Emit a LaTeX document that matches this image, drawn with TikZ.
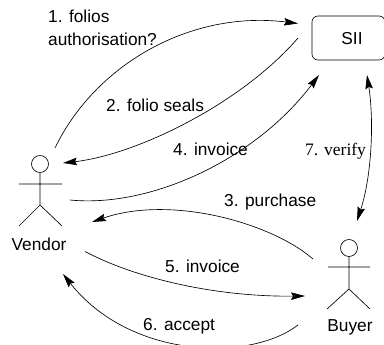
\documentclass[tikz,border=0pt]{standalone}
\usepackage{fontspec}
\setmainfont{Liberation Sans}
\newfontfamily\serifface{Liberation Serif}
\usetikzlibrary{arrows.meta}
\tikzset{
  every picture/.style={x=1pt,y=-1pt},
  lab/.style={anchor=base west,inner sep=0pt,font=\fontsize{17.3}{20}\selectfont},
  serlab/.style={anchor=base west,inner sep=0pt,font=\serifface\fontsize{17.5}{20}\selectfont},
  actorlab/.style={anchor=base,inner sep=0pt,font=\fontsize{17.3}{20}\selectfont},
  flow/.style={line width=0.65pt,-{Stealth[length=14pt,width=7.5pt,inset=2pt]}},
  both/.style={line width=0.65pt,{Stealth[length=14pt,width=7.5pt,inset=2pt]}-{Stealth[length=14pt,width=7.5pt,inset=2pt]}},
  limb/.style={line width=0.65pt},
  headc/.style={draw,circle,line width=0.65pt,minimum size=17pt,inner sep=0pt},
  sysbox/.style={draw,line width=0.65pt,rounded corners=6pt,minimum width=73pt,minimum height=44pt,inner sep=0pt}
}
\begin{document}
\begin{tikzpicture}
\useasboundingbox (0,0) rectangle (384,345);
\node[sysbox] (sii) at (348.5,38) {};
\node[inner sep=0pt,anchor=base,font=\fontsize{17.3}{20}\selectfont] (siitext) at (352,45) {SII};
% actors
\node[headc] (vhead) at (40,164) {};
\coordinate (vhip) at (40,205);
\coordinate (varml) at (19,184); \coordinate (varmr) at (62,184);
\coordinate (vlegl) at (19,226); \coordinate (vlegr) at (62,226);
\draw[limb] (vhead) -- (vhip) (varml) -- (varmr) (vlegl) -- (vhip) -- (vlegr);
\node[actorlab] (vendor) at (39,251) {Vendor};
\node[headc] (bhead) at (349,248) {};
\coordinate (bhip) at (349,289);
\coordinate (barml) at (328,267); \coordinate (barmr) at (370,267);
\coordinate (blegl) at (327,309); \coordinate (blegr) at (370,309);
\draw[limb] (bhead) -- (bhip) (barml) -- (barmr) (blegl) -- (bhip) -- (blegr);
\node[actorlab] (buyer) at (350,332) {Buyer};
% connector ends
\coordinate (a1) at (55,148); \coordinate (b1) at (298,23.5);
\coordinate (a2) at (298,38); \coordinate (b2) at (63,163);
\coordinate (a4) at (70,200); \coordinate (b4) at (319,75);
\coordinate (a7) at (367,75); \coordinate (b7) at (357,221);
\coordinate (a3) at (313,259); \coordinate (b3) at (92,222);
\coordinate (a5) at (85,251.5); \coordinate (b5) at (305,296);
\coordinate (a6) at (298,325); \coordinate (b6) at (63,274);
\draw[flow] (a1) .. controls (95,65) and (190,10) .. (b1);
\draw[flow] (a2) .. controls (240,105) and (135,155) .. (b2);
\draw[flow] (a4) .. controls (150,208) and (255,160) .. (b4);
\draw[both] (a7) .. controls (374,120) and (372,175) .. (b7);
\draw[flow] (a3) .. controls (270,222) and (170,195) .. (b3);
\draw[flow] (a5) .. controls (135,278) and (215,297) .. (b5);
\draw[flow] (a6) .. controls (250,362) and (130,359) .. (b6);
% labels
\node[lab] (l1a) at (48,23) {1. folios};
\node[lab] (l1b) at (48,45.5) {authorisation?};
\node[lab] (l2) at (106,112) {2. folio seals};
\node[lab] (l4) at (173,156) {4. invoice};
\node[serlab] (l7) at (305,156) {7. verify};
\node[lab] (l3) at (224,207) {3. purchase};
\node[lab] (l5) at (165,273) {5. invoice};
\node[lab] (l6) at (143,331) {6. accept};
\end{tikzpicture}
\end{document}
